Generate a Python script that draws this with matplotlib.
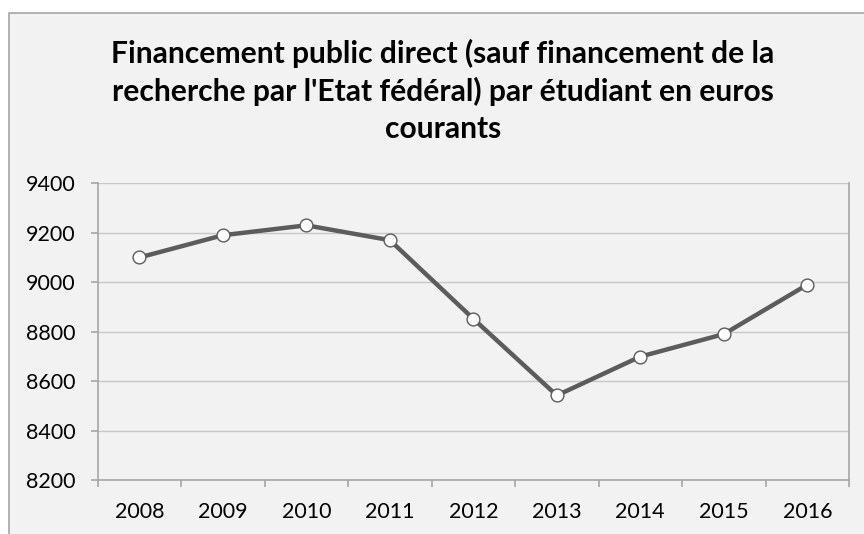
import matplotlib
matplotlib.use('Agg')
import matplotlib.pyplot as plt
from matplotlib.patches import Rectangle
from matplotlib.ticker import FixedLocator

years = ['2008', '2009', '2010', '2011', '2012', '2013', '2014', '2015', '2016']
values = [9100, 9190, 9230, 9170, 8852, 8542, 8699, 8790, 8990]
y_ticks = [8200, 8400, 8600, 8800, 9000, 9200, 9400]
title = ("Financement public direct (sauf financement de la\n"
         "recherche par l'Etat fédéral) par étudiant en euros\n"
         "courants")

plt.rcParams['font.family'] = ['Lato', 'DejaVu Sans']

W, H = 864, 534
fig = plt.figure(figsize=(W / 100, H / 100), dpi=100)
fig.patch.set_facecolor('white')

# chart area (cropped on the right and bottom in the reference)
fig.patches.append(Rectangle((9 / W, -0.1), 1.2, 1 - 12.7 / H + 0.1,
                             transform=fig.transFigure, facecolor='#f2f2f2',
                             edgecolor='#a6a6a6', linewidth=1.2, zorder=-5))

fig.text(443 / W, 1 - 91 / H, title, ha='center', va='center',
         fontsize=21.6, fontweight='bold', linespacing=1.38, color='black')

ax = fig.add_axes([97.7 / W, 1 - 480 / H, (849 - 97.7) / W, (480 - 183.3) / H])
ax.set_facecolor('#f2f2f2')

x = list(range(len(years)))
ax.plot(x, values, color='#5c5c5c', linewidth=3.2, marker='o', markersize=9.2,
        markerfacecolor='white', markeredgecolor='#5c5c5c', markeredgewidth=1,
        zorder=3)

ax.set_xlim(-0.5, len(years) - 0.5)
ax.set_ylim(8200, 9400)
ax.set_yticks(y_ticks)
ax.set_yticklabels([str(v) for v in y_ticks])
ax.set_xticks(x)
ax.set_xticklabels(years)
ax.xaxis.set_minor_locator(FixedLocator([i - 0.5 for i in range(len(years) + 1)]))

ax.yaxis.grid(True, color='#c8c8c8', linewidth=1)
ax.set_axisbelow(True)

for side in ['left', 'bottom', 'right']:
    ax.spines[side].set_color('#a6a6a6')
    ax.spines[side].set_linewidth(1.2)
ax.spines['top'].set_visible(False)

ax.tick_params(axis='x', which='major', length=0, pad=16, labelsize=15.5)
ax.tick_params(axis='x', which='minor', length=5, color='#a6a6a6', width=1.2)
ax.tick_params(axis='y', length=5, color='#a6a6a6', width=1.2, pad=11, labelsize=15.5)

fig.savefig('out.png', dpi=100)
